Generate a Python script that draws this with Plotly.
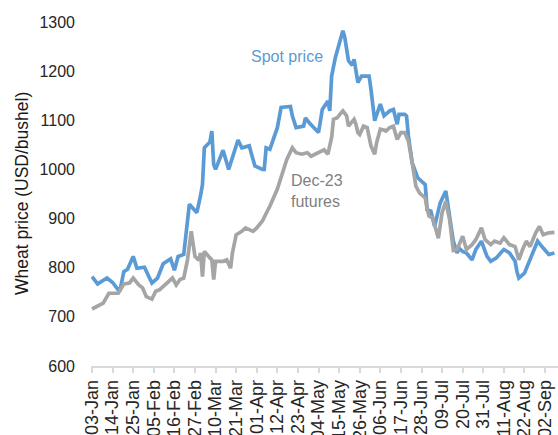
import plotly.graph_objects as go

spot_dates = ["2022-01-03","2022-01-06","2022-01-11","2022-01-14","2022-01-17","2022-01-18","2022-01-20","2022-01-22",
"2022-01-25","2022-01-27","2022-01-31","2022-02-04","2022-02-07","2022-02-10","2022-02-14","2022-02-16","2022-02-18",
"2022-02-21","2022-02-24","2022-02-28","2022-03-02","2022-03-03","2022-03-04","2022-03-07","2022-03-08","2022-03-09",
"2022-03-10","2022-03-14","2022-03-17","2022-03-22","2022-03-24","2022-03-28","2022-03-29","2022-03-31","2022-04-04",
"2022-04-05","2022-04-06","2022-04-08","2022-04-12","2022-04-14","2022-04-19","2022-04-20","2022-04-22","2022-04-26",
"2022-04-27","2022-04-29","2022-05-04","2022-05-06","2022-05-09","2022-05-10","2022-05-11","2022-05-13","2022-05-17",
"2022-05-18","2022-05-20","2022-05-22","2022-05-23","2022-05-25","2022-05-27","2022-05-31","2022-06-01","2022-06-03",
"2022-06-06","2022-06-08","2022-06-11","2022-06-13","2022-06-15","2022-06-16","2022-06-19","2022-06-20","2022-06-21",
"2022-06-23","2022-06-26","2022-06-29","2022-06-30","2022-07-01","2022-07-03","2022-07-05","2022-07-08","2022-07-11",
"2022-07-13","2022-07-14","2022-07-15","2022-07-17","2022-07-18","2022-07-20","2022-07-22","2022-07-25","2022-07-27",
"2022-07-30","2022-08-02","2022-08-04","2022-08-07","2022-08-10","2022-08-11","2022-08-14","2022-08-17","2022-08-18",
"2022-08-19","2022-08-22","2022-08-25","2022-08-26","2022-08-29","2022-09-01","2022-09-04","2022-09-07"]
spot_values = [782,767,779,770,755,755,792,797,
823,799,801,769,779,808,818,795,823,
827,929,912,947,969,1044,1056,1078,1010,
1000,1039,1000,1060,1044,1048,1034,1007,1000,
1000,1044,1041,1085,1126,1128,1109,1085,1088,
1105,1095,1075,1122,1139,1119,1190,1228,1282,
1269,1221,1212,1224,1177,1190,1190,1163,1099,
1133,1109,1119,1122,1092,1112,1112,1109,1068,
1014,983,973,969,918,915,884,932,956,
905,870,854,830,840,833,830,816,837,
854,823,813,820,833,837,830,813,792,
779,789,816,827,854,840,827,830]

fut_dates = ["2022-01-03","2022-01-06","2022-01-09","2022-01-12","2022-01-17","2022-01-20","2022-01-23","2022-01-25",
"2022-01-28","2022-01-30","2022-02-01","2022-02-04","2022-02-06","2022-02-08","2022-02-11","2022-02-15","2022-02-17",
"2022-02-19","2022-02-21","2022-02-23","2022-02-25","2022-02-27","2022-03-01","2022-03-02","2022-03-03","2022-03-04",
"2022-03-07","2022-03-08","2022-03-09","2022-03-10","2022-03-14","2022-03-16","2022-03-18","2022-03-19","2022-03-21",
"2022-03-24","2022-03-26","2022-03-30","2022-04-01","2022-04-04","2022-04-07","2022-04-08","2022-04-12","2022-04-15",
"2022-04-17","2022-04-20","2022-04-22","2022-04-25","2022-04-28","2022-04-30","2022-05-05","2022-05-07","2022-05-09",
"2022-05-10","2022-05-11","2022-05-12","2022-05-14","2022-05-16","2022-05-17","2022-05-19","2022-05-20","2022-05-23",
"2022-05-24","2022-05-25","2022-05-26","2022-05-28","2022-05-30","2022-06-01","2022-06-03","2022-06-04","2022-06-06",
"2022-06-08","2022-06-09","2022-06-11","2022-06-13","2022-06-15","2022-06-17","2022-06-19","2022-06-21","2022-06-23",
"2022-06-25","2022-06-27","2022-06-30","2022-07-01","2022-07-02","2022-07-04","2022-07-06","2022-07-07","2022-07-09",
"2022-07-11","2022-07-13","2022-07-14","2022-07-15","2022-07-17","2022-07-20","2022-07-22","2022-07-25","2022-07-27",
"2022-07-30","2022-08-01","2022-08-04","2022-08-06","2022-08-09","2022-08-11","2022-08-14","2022-08-17","2022-08-19",
"2022-08-21","2022-08-23","2022-08-25","2022-08-28","2022-08-30","2022-09-01","2022-09-04","2022-09-07"]
fut_values = [716,721,728,748,748,767,769,779,
765,759,741,736,752,755,765,779,765,
776,779,816,874,823,815,830,782,833,
820,816,776,813,813,816,799,830,867,
874,881,874,881,895,918,925,960,997,
1020,1044,1034,1031,1034,1027,1037,1040,1031,
1048,1065,1102,1105,1115,1119,1109,1088,1102,
1092,1075,1071,1088,1085,1048,1031,1054,1082,
1080,1078,1085,1088,1061,1075,1075,1058,1014,
966,952,942,920,905,901,875,860,912,
935,898,860,835,837,864,837,847,857,
881,857,847,854,850,861,847,843,816,
837,854,843,871,884,867,871,872]

y_min, y_max = 600, 1300
font_family = "Liberation Sans, Arial, sans-serif"

fig = go.Figure()
fig.add_trace(go.Scatter(x=spot_dates, y=spot_values, mode="lines", name="Spot price",
                         line=dict(color="#5B9BD5", width=3.7), showlegend=False))
fig.add_trace(go.Scatter(x=fut_dates, y=fut_values, mode="lines", name="Dec-23 futures",
                         line=dict(color="#A5A5A5", width=3.7), showlegend=False))

fig.update_layout(
    width=558, height=435,
    margin=dict(l=91, r=0, t=22, b=69),
    paper_bgcolor="white", plot_bgcolor="white",
    font=dict(family=font_family, size=16, color="#262626"),
    xaxis=dict(
        type="date",
        range=["2022-01-02 11:00", "2022-09-08 22:00"],
        tick0="2022-01-03", dtick=11 * 86400000,
        tickformat="%d-%b", tickangle=-90,
        showgrid=False, zeroline=False,
        showline=True, linecolor="#D9D9D9", linewidth=1.5,
        ticks="outside", ticklen=5, tickcolor="#D9D9D9", tickwidth=1.5,
        tickfont=dict(size=18, color="#262626"),
        automargin=False,
    ),
    yaxis=dict(
        range=[y_min, y_max], dtick=100,
        showgrid=False, zeroline=False, showline=False,
        ticks="", ticklabelstandoff=15,
        tickfont=dict(size=16, color="#262626"),
        automargin=False,
    ),
    annotations=[
        dict(text="Wheat price (USD/bushel)", textangle=-90, xref="paper", yref="paper",
             x=-(91 - 22) / 467, y=0.5, xanchor="center", yanchor="middle", showarrow=False,
             font=dict(size=17.5, color="#1a1a1a")),
        dict(text="Spot price", xref="x", yref="y", x="2022-04-17", y=1230, xanchor="center",
             yanchor="middle", showarrow=False, font=dict(size=16, color="#5B9BD5")),
        dict(text="Dec-23<br>futures", xref="x", yref="y", x="2022-04-18", y=957, xanchor="left",
             yanchor="middle", align="left", showarrow=False, font=dict(size=16, color="#7F7F7F")),
    ],
)

fig.write_html("out.html", config={"displayModeBar": False},
               post_script="document.body.style.margin='0';document.body.style.overflow='hidden';")
